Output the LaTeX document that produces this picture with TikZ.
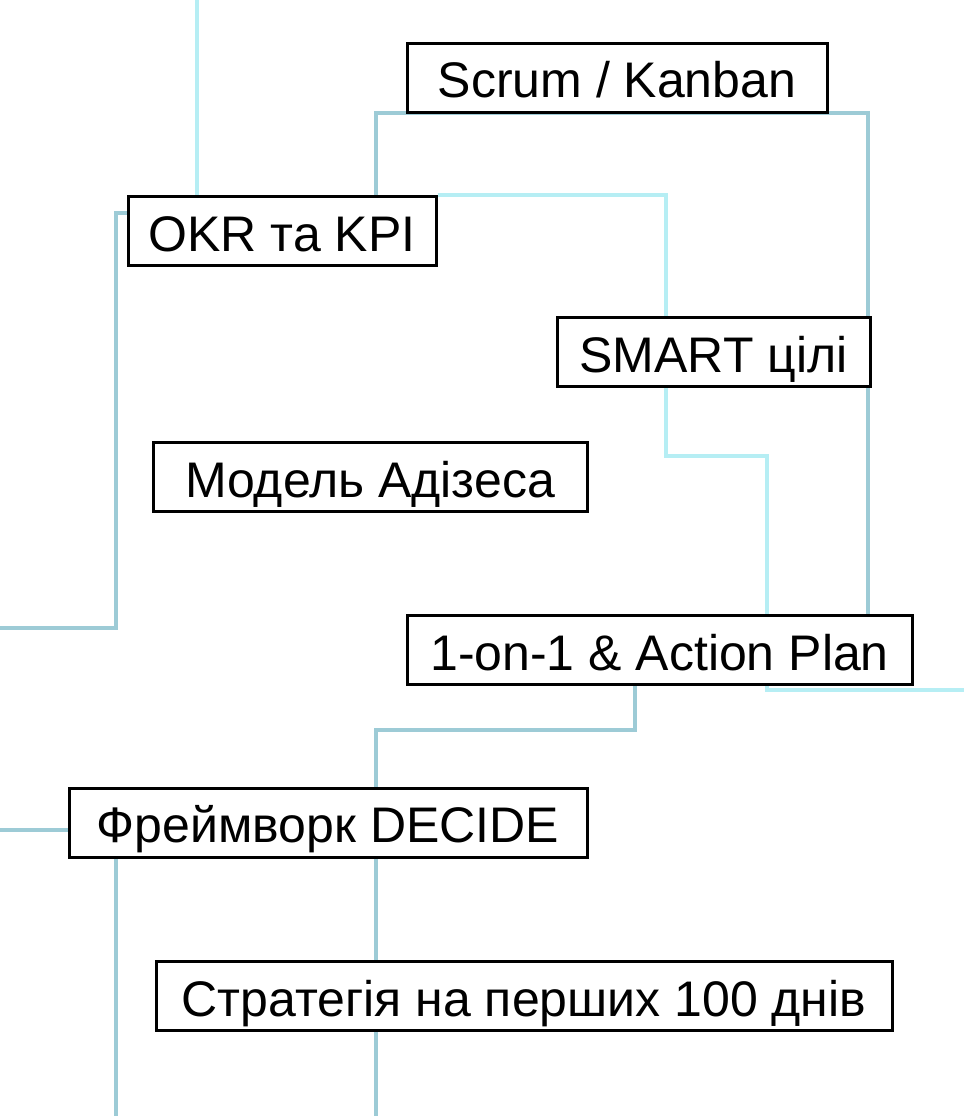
\documentclass[tikz,border=0pt]{standalone}
\usepackage{fontspec}
\setmainfont{Liberation Sans}
\usetikzlibrary{positioning,backgrounds}
\definecolor{paleline}{HTML}{B6EEF4}
\definecolor{tealline}{HTML}{9DCBD6}
\tikzset{
  method/.style={rectangle, draw=black, fill=white, line width=1.5pt, inner sep=0pt, minimum height=34.5pt, text height=20pt, text depth=0pt, font=\fontsize{25}{29}\selectfont},
  palelink/.style={draw=paleline, line width=1.6pt},
  teallink/.style={draw=tealline, line width=1.6pt}
}

\begin{document}
\begin{tikzpicture}[x=0.5pt, y=-0.5pt]
  \useasboundingbox (0,0) rectangle (964,1116);
  \node[method, minimum width=210pt] (scrum) at (617,77.5) {Scrum / Kanban};
  \node[method, minimum width=154pt] (okr) at (282,231) {OKR та KPI};
  \node[method, minimum width=156.5pt] (smart) at (713.5,352) {SMART цілі};
  \node[method, minimum width=217pt] (adizes) at (370,477) {Модель Адізеса};
  \node[method, minimum width=252.5pt] (oneon) at (659.5,650) {1-on-1 \& Action Plan};
  \node[method, minimum width=259pt] (decide) at (328,822.5) {Фреймворк DECIDE};
  \node[method, minimum width=368pt] (strat) at (524,996) {Стратегія на перших 100 днів};
  % bends and free ends
  \coordinate (topend) at (197,0);
  \coordinate (smartbend) at (666,456);
  \coordinate (planbend) at (767,690);
  \coordinate (rightend) at (964,690);
  \coordinate (scrumleft) at (376,113);
  \coordinate (scrumright) at (868,113);
  \coordinate (okrbend) at (116,213);
  \coordinate (leftend) at (0,628);
  \coordinate (decidein) at (0,830);
  \coordinate (planout) at (635,730);
  \coordinate (bottomleft) at (116,1116);
  \coordinate (bottomright) at (376,1116);
  \begin{scope}[on background layer]
    \fill[white] (0,0) rectangle (964,1116);
    \draw[palelink] (topend) -- (okr.north -| topend);
    \draw[palelink] (okr.north east) -| (smartbend |- smart.north);
    \draw[palelink] (smartbend |- smart.south) -- (smartbend) -| (planbend) -- (rightend);
    \draw[teallink] (okr.north -| scrumleft) -- (scrumleft) -- (scrumright) -- (scrumright |- oneon.north);
    \draw[teallink] (okr.west |- okrbend) -- (okrbend) |- (leftend);
    \draw[teallink] (oneon.south -| planout) -- (planout) -| (bottomright);
    \draw[teallink] (decidein) -- (decide.west |- decidein);
    \draw[teallink] (decide.south -| bottomleft) -- (bottomleft);
  \end{scope}
\end{tikzpicture}
\end{document}
